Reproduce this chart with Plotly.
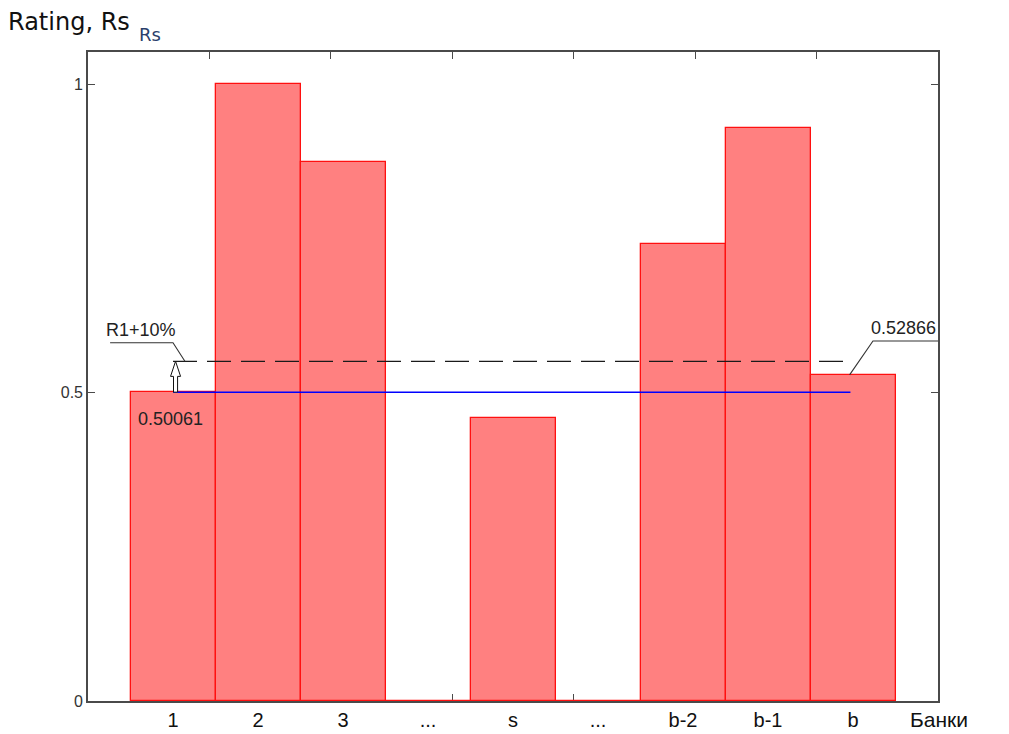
import plotly.graph_objects as go

# ---- data ----
categories = ["1", "2", "3", "...", "s", "...", "b-2", "b-1", "b"]
positions = [1, 2, 3, 4, 5, 6, 7, 8, 9]
ratings = [0.50061, 1.0, 0.874, 0.0, 0.459, 0.0, 0.741, 0.929, 0.52866]
y_tick_vals = [0, 0.5, 1]
y_tick_text = ["0", "0.5", "1"]
r1 = ratings[0]
rb = ratings[-1]
r1_plus = r1 * 1.1
x_first = positions[0]
x_last = positions[-1]

FONT = "Liberation Sans, Arial, sans-serif"
AX = "#4a4a4a"

fig = go.Figure()

fig.add_trace(go.Bar(
    x=positions, y=ratings, width=1,
    marker=dict(color="#FF8080", line=dict(color="#FF1010", width=1.3)),
    showlegend=False, hoverinfo="skip",
))

# invisible trace so the category-label axis is drawn
fig.add_trace(go.Scatter(x=positions, y=ratings, xaxis="x2", mode="markers",
                         marker=dict(opacity=0), showlegend=False, hoverinfo="skip"))

# R1 level (blue) and R1+10% level (dashed)
fig.add_trace(go.Scatter(x=[x_first, x_last - 0.03], y=[r1, r1], mode="lines",
                         line=dict(color="#0000FF", width=1.5), showlegend=False, hoverinfo="skip"))
fig.add_trace(go.Scatter(x=[x_first, x_last - 0.08], y=[r1_plus, r1_plus], mode="lines",
                         line=dict(color="#1a1a1a", width=1.3, dash="24px,10px"),
                         showlegend=False, hoverinfo="skip"))

# leader lines
fig.add_trace(go.Scatter(x=[0.26, x_first, x_first + 0.14], y=[r1_plus + 0.03, r1_plus + 0.03, r1_plus],
                         mode="lines", line=dict(color="#333333", width=1.1),
                         showlegend=False, hoverinfo="skip"))
fig.add_trace(go.Scatter(x=[x_last - 0.04, x_last + 0.235, 10], y=[rb, rb + 0.055, rb + 0.055],
                         mode="lines", line=dict(color="#333333", width=1.1),
                         showlegend=False, hoverinfo="skip"))

# hollow arrow from R1 to R1+10%
ax_x = x_first + 0.03
sw, hw = 0.024, 0.059
hb = r1_plus - 0.0245
path = (f"M {ax_x - sw},{r1} L {ax_x - sw},{hb} L {ax_x - hw},{hb} L {ax_x},{r1_plus} "
        f"L {ax_x + hw},{hb} L {ax_x + sw},{hb} L {ax_x + sw},{r1} Z")
fig.add_shape(type="path", path=path, xref="x", yref="y",
              line=dict(color="#111111", width=1), fillcolor="white", layer="above")

ann_font = dict(family=FONT, size=18, color="#222222")
fig.add_annotation(x=0.62, y=r1_plus + 0.032, xref="x", yref="y", text="R1+10%",
                   showarrow=False, yanchor="bottom", font=ann_font)
fig.add_annotation(x=9.59, y=rb + 0.057, xref="x", yref="y", text=f"{rb:.5f}",
                   showarrow=False, yanchor="bottom", font=ann_font)
fig.add_annotation(x=0.976, y=r1 - 0.024, xref="x", yref="y", text=f"{r1:.5f}",
                   showarrow=False, yanchor="top", font=ann_font)

# titles
fig.add_annotation(x=-0.096, y=1.046, xref="paper", yref="paper", text="Rating, Rs",
                   showarrow=False, xanchor="left", yanchor="middle",
                   font=dict(family="DejaVu Sans, Verdana, sans-serif", size=24, color="#111111"))
fig.add_annotation(x=0.058, y=1.027, xref="paper", yref="paper", text="Rs",
                   showarrow=False, xanchor="left", yanchor="middle",
                   font=dict(family="DejaVu Sans, Verdana, sans-serif", size=18, color="#2b3f6b"))
fig.add_annotation(x=0.965, y=-0.029, xref="paper", yref="paper", text="Банки",
                   showarrow=False, xanchor="left", yanchor="middle",
                   font=dict(family=FONT, size=21, color="#111111"))

fig.update_layout(
    width=1001, height=726,
    margin=dict(l=80, r=71, t=44, b=33, autoexpand=False),
    paper_bgcolor="white", plot_bgcolor="white",
    bargap=0,
    xaxis=dict(range=[0, 10], tick0=0, dtick=10 / 7, ticks="inside", ticklen=7,
               tickcolor=AX, tickwidth=1.3, showticklabels=False, showgrid=False,
               zeroline=False, showline=True, linecolor=AX, linewidth=1.6,
               mirror="ticks", layer="below traces", automargin=False),
    xaxis2=dict(range=[0, 10], overlaying="x", anchor="y", side="bottom",
                tickvals=positions, ticktext=categories, ticks="", showline=False,
                showgrid=False, zeroline=False, ticklabelstandoff=5, automargin=False,
                tickfont=dict(family=FONT, size=20, color="#111111")),
    yaxis=dict(range=[0, 1.052], tickvals=y_tick_vals, ticktext=y_tick_text,
               ticks="inside", ticklen=7, tickcolor=AX, tickwidth=1.3,
               showgrid=False, zeroline=False, showline=True, linecolor=AX,
               linewidth=1.6, mirror="ticks", layer="below traces", automargin=False,
               tickfont=dict(family=FONT, size=16, color="#333333")),
)

fig.write_html("out.html")
